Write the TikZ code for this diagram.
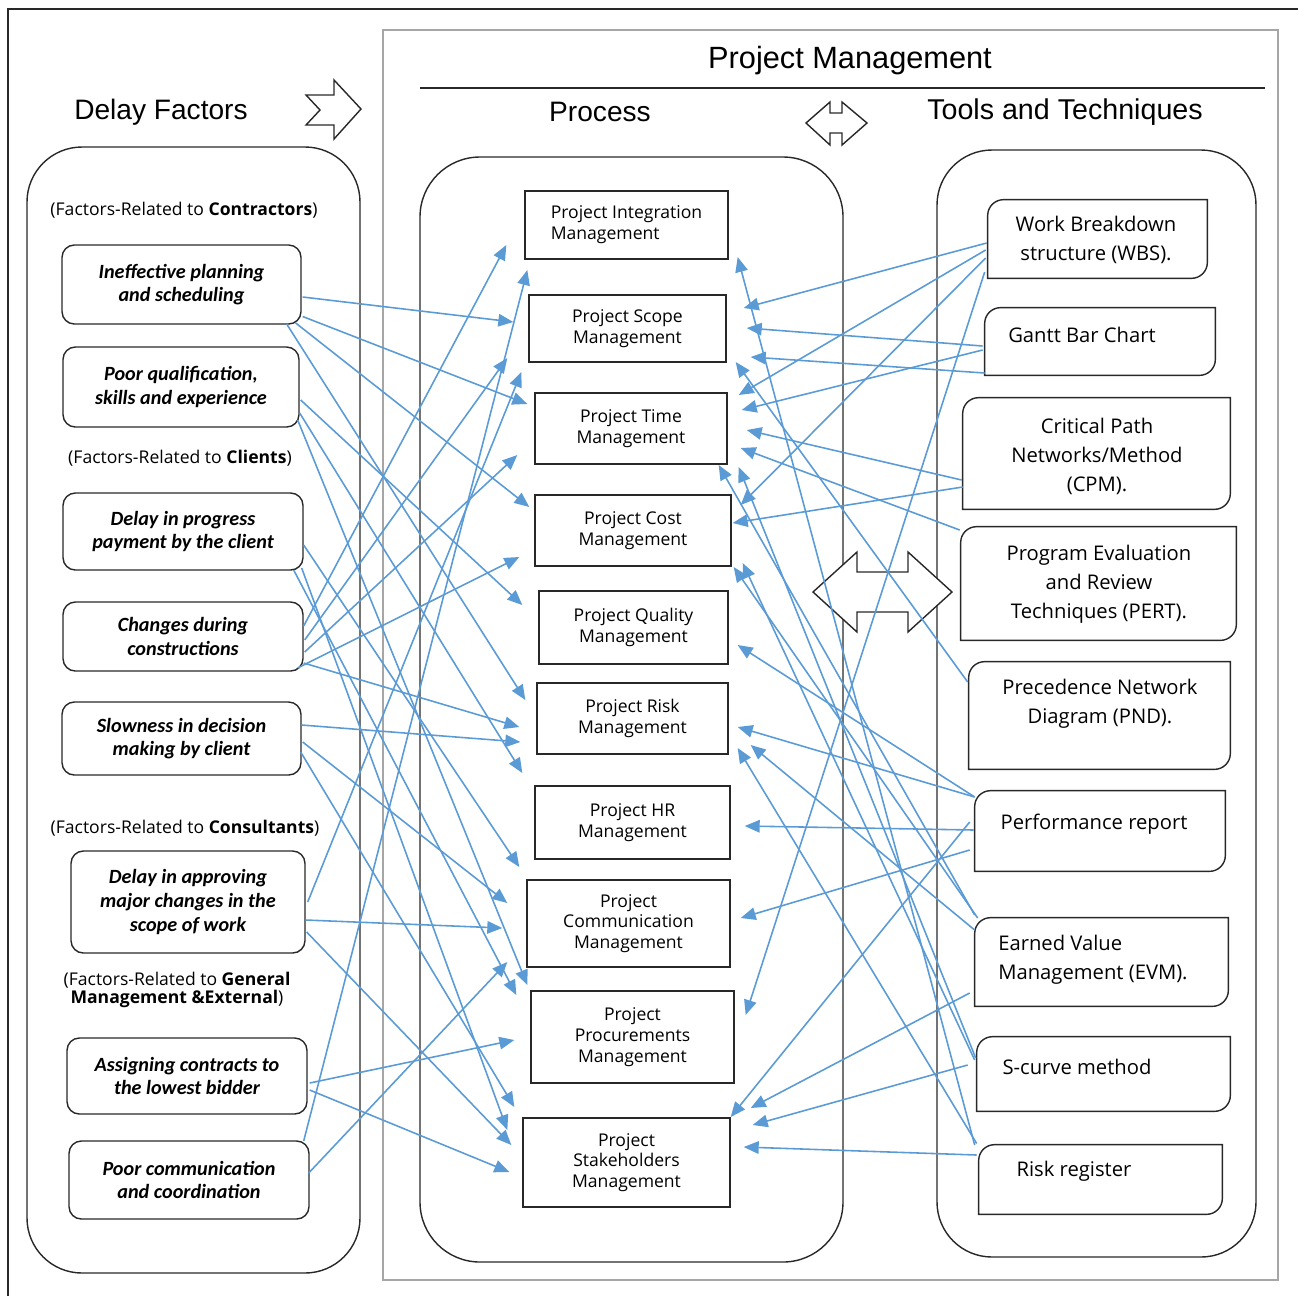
\documentclass[tikz,border=0pt]{standalone}
\usepackage{fontspec}
\setmainfont{Open Sans}
\newfontfamily\headfont{Liberation Sans}
\newfontfamily\factorfont{Carlito}
\usetikzlibrary{arrows.meta,calc}

\definecolor{linkblue}{RGB}{91,155,213}
\definecolor{boxline}{RGB}{40,40,40}

\begin{document}
\begin{tikzpicture}[x=0.02cm,y=-0.02cm,
    head/.style={font=\headfont\fontsize{16}{18}\selectfont},
    group/.style={font=\fontsize{10}{12}\selectfont},
    factor/.style={draw=boxline,thick,rounded corners=7pt,inner sep=0pt,align=center,
      font=\factorfont\bfseries\itshape\fontsize{11.5}{13.5}\selectfont},
    proc/.style={draw=boxline,thick,inner sep=0pt,align=center,font=\fontsize{10}{11.8}\selectfont},
    tool/.style={inner sep=0pt},
    tooltext/.style={inner sep=0pt,align=center,font=\fontsize{11.5}{16.5}\selectfont}]

        \useasboundingbox (0,0) rectangle (1298,1296);

        % frames
        \draw[boxline,line width=1.1pt] (8,1296) -- (8,9) -- (1298,9);
        \draw[gray!70,thick] (383,30) rectangle (1278,1280);
        \draw[boxline,thick] (420,88) -- (1265,88);
        \draw[boxline,thick,rounded corners=1.1cm] (27,147) rectangle (360,1273);
        \draw[boxline,thick,rounded corners=1.2cm] (420,157) rectangle (843,1262);
        \draw[boxline,thick,rounded corners=1.1cm] (937,150) rectangle (1256,1257);

        % block arrows
        \draw[boxline,thick,fill=white] (306,95) -- (334,95) -- (334,80) -- (361,109)
          -- (334,139) -- (334,125) -- (306,125) -- (320,110) -- cycle;
        \draw[boxline,thick,fill=white] (806,123) -- (830,102) -- (830,113) -- (842,113)
          -- (842,102) -- (867,123) -- (842,145) -- (842,133) -- (830,133) -- (830,145) -- cycle;
        \draw[boxline,thick,fill=white] (813,592) -- (857,552) -- (857,572) -- (908,572)
          -- (908,552) -- (952,592) -- (908,632) -- (908,612) -- (857,612) -- (857,632) -- cycle;

        % headings
        \node[head] (hdelay) at (161,112) {Delay Factors};
        \node[head,font=\headfont\fontsize{17.5}{20}\selectfont] (hpm) at (850,61) {Project Management};
        \node[head] (hproc) at (600,112) {Process};
        \node[head,font=\headfont\fontsize{16.3}{18}\selectfont] (htools) at (1065,112) {Tools and Techniques};

        \node[group] (g1) at (184,210) {(Factors-Related to \textbf{Contractors})};
        \node[group] (g2) at (180,458) {(Factors-Related to \textbf{Clients})};
        \node[group] (g3) at (185,828) {(Factors-Related to \textbf{Consultants})};
        \node[group,align=center,font=\fontsize{10}{10.5}\selectfont] (g4) at (177,990)
          {(Factors-Related to \textbf{General}\\\textbf{Management \&External})};

        % delay factors
        \node[factor,minimum width=4.78cm,minimum height=1.58cm] (f1) at (181.5,284.5) {Ineffective planning\\and scheduling};
        \node[factor,minimum width=4.72cm,minimum height=1.6cm] (f2) at (181,387) {Poor qualification,\\skills and experience};
        \node[factor,minimum width=4.8cm,minimum height=1.54cm] (f3) at (183,531.5) {Delay in progress\\payment by the client};
        \node[factor,minimum width=4.8cm,minimum height=1.38cm] (f4) at (183,636.5) {Changes during\\constructions};
        \node[factor,minimum width=4.78cm,minimum height=1.46cm] (f5) at (181.5,738.5) {Slowness in decision\\making by client};
        \node[factor,minimum width=4.68cm,minimum height=2.04cm] (f6) at (188,902) {Delay in approving\\major changes in the\\scope of work};
        \node[factor,minimum width=4.8cm,minimum height=1.52cm] (f7) at (187,1076) {Assigning contracts to\\the lowest bidder};
        \node[factor,minimum width=4.8cm,minimum height=1.56cm] (f8) at (189,1180) {Poor communication\\and coordination};

        % process
        \node[proc,align=left,minimum width=4.06cm,minimum height=1.36cm] (p1) at (626.5,225) {Project Integration\\Management};
        \node[proc,minimum width=3.94cm,minimum height=1.34cm] (p2) at (627.5,328.5) {Project Scope\\Management};
        \node[proc,minimum width=3.84cm,minimum height=1.42cm] (p3) at (631,428.5) {Project Time\\Management};
        \node[proc,minimum width=3.92cm,minimum height=1.42cm] (p4) at (633,530.5) {Project Cost\\Management};
        \node[proc,minimum width=3.78cm,minimum height=1.46cm] (p5) at (633.5,627.5) {Project Quality\\Management};
        \node[proc,minimum width=3.82cm,minimum height=1.42cm] (p6) at (632.5,718.5) {Project Risk\\Management};
        \node[proc,minimum width=3.9cm,minimum height=1.46cm] (p7) at (632.5,822.5) {Project HR\\Management};
        \node[proc,minimum width=4.06cm,minimum height=1.74cm] (p8) at (628.5,923.5) {Project\\Communication\\Management};
        \node[proc,minimum width=4.06cm,minimum height=1.84cm] (p9) at (632.5,1037) {Project\\Procurements\\Management};
        \node[proc,minimum width=4.14cm,minimum height=1.78cm] (p10) at (626.5,1162.5) {Project\\Stakeholders\\Management};

        % tools and techniques
        \node[tool,minimum width=4.38cm,minimum height=1.56cm] (t1) at (1097.5,239) {};
        \node[tool,minimum width=4.6cm,minimum height=1.34cm] (t2) at (1100,341.5) {};
        \node[tool,minimum width=5.34cm,minimum height=2.22cm] (t3) at (1096.5,453.5) {};
        \node[tool,minimum width=5.5cm,minimum height=2.26cm] (t4) at (1098.5,583.5) {};
        \node[tool,minimum width=5.22cm,minimum height=2.14cm] (t5) at (1099.5,715.5) {};
        \node[tool,minimum width=5cm,minimum height=1.6cm] (t6) at (1100,831) {};
        \node[tool,minimum width=5.06cm,minimum height=1.76cm] (t7) at (1101.5,962) {};
        \node[tool,minimum width=5.06cm,minimum height=1.48cm] (t8) at (1103.5,1074) {};
        \node[tool,minimum width=4.86cm,minimum height=1.38cm] (t9) at (1100.5,1179.5) {};

        \foreach \t in {t1,t2,t3,t4,t5,t6,t7,t8,t9}
          \draw[boxline,thick] (\t.west) [rounded corners=9pt] -- (\t.north west) -- (\t.north)
            [sharp corners] -- (\t.north east) -- (\t.east) [rounded corners=9pt] -- (\t.south east)
            -- (\t.south) [sharp corners] -- (\t.south west) -- cycle;

        \node[tooltext] (t1l) at (1096,240) {Work Breakdown\\structure (WBS).};
        \node[tooltext] (t2l) at (1082,335) {Gantt Bar Chart};
        \node[tooltext] (t3l) at (1097,456) {Critical Path\\Networks/Method\\(CPM).};
        \node[tooltext] (t4l) at (1099,584) {Program Evaluation\\and Review\\Techniques (PERT).};
        \node[tooltext] (t5l) at (1100,704) {Precedence Network\\Diagram (PND).};
        \node[tooltext] (t6l) at (1094,824) {Performance report};
        \node[tooltext,align=left,anchor=west] (t7l) at (998,960) {Earned Value\\Management (EVM).};
        \node[tooltext] (t8l) at (1077,1067) {S-curve method};
        \node[tooltext] (t9l) at (1074,1171) {Risk register};

        \begin{scope}[every edge/.style={draw=linkblue,line width=0.9pt,-{Triangle[length=3mm,width=2.5mm]}}]
          % delay factors to process
          \path ($(f1.east)+(1,12.5)$) edge ($(p2.west)+(-15,-6.5)$);
          \path ($(f1.east)+(1,32)$) edge ($(p3.west)+(-7,-24.5)$);
          \path ($(f1.east)+(-6,38.5)$) edge ($(p4.west)+(-5,-23.5)$);
          \path ($(f1.east)+(-15,39.5)$) edge ($(p6.west)+(-11,-18.5)$);
          \path ($(f2.east)+(1,13)$) edge ($(p5.west)+(-16,-22.5)$);
          \path ($(f2.east)+(0,26)$) edge ($(p7.west)+(-12,-49.5)$);
          \path ($(f2.east)+(-2,33)$) edge ($(p9.west)+(-3,-52)$);
          \path ($(f3.east)+(0,13.5)$) edge ($(p8.west)+(-7,-56.5)$);
          \path ($(f3.east)+(-10,38.5)$) edge ($(p9.west)+(-14,-42)$);
          \path ($(f3.east)+(-2,36.5)$) edge ($(p10.west)+(-15,-32.5)$);
          \path ($(f4.east)+(0,-10.5)$) edge ($(p1.west)+(-18,20)$);
          \path ($(f4.east)+(1,3.5)$) edge ($(p2.west)+(-21,29.5)$);
          \path ($(f4.east)+(1,15.5)$) edge ($(p3.west)+(-17,26.5)$);
          \path ($(f4.east)+(-6,31.5)$) edge ($(p4.west)+(-15,26.5)$);
          \path ($(f4.east)+(0,26.5)$) edge ($(p6.west)+(-17,8.5)$);
          \path ($(f5.east)+(0,-13.5)$) edge ($(p6.west)+(-16,23.5)$);
          \path ($(f5.east)+(1,3.5)$) edge ($(p8.west)+(-19,-20.5)$);
          \path ($(f5.east)+(-1,13.5)$) edge ($(p10.west)+(-8,-55.5)$);
          \path ($(f6.east)+(2,0)$) edge ($(p2.west)+(-7,43.5)$);
          \path ($(f6.east)+(0,18)$) edge ($(p8.west)+(-24,4.5)$);
          \path ($(f6.east)+(1,30)$) edge ($(p10.west)+(-11,-17.5)$);
          \path ($(f7.east)+(2,7)$) edge ($(p9.west)+(-16,3)$);
          \path ($(f7.east)+(2,14)$) edge ($(p10.west)+(-13,9.5)$);
          \path ($(f8.east)+(-6,-39)$) edge ($(p1.west)+(3,45)$);
          \path ($(f8.east)+(-1,-7)$) edge ($(p9.west)+(-23,-75)$);

          % tools to process
          \path ($(t1.west)+(-1,4)$) edge ($(p2.east)+(17,-20.5)$);
          \path ($(t1.west)+(-2,11)$) edge ($(p3.east)+(11,-33.5)$);
          \path ($(t1.west)+(-2,19)$) edge ($(p4.east)+(9,-25.5)$);
          \path ($(t1.west)+(-3,33)$) edge ($(p9.east)+(11,-22)$);
          \path ($(t2.west)+(-2,4.5)$) edge ($(p2.east)+(20,-0.5)$);
          \path ($(t2.west)+(-2,8.5)$) edge ($(p3.east)+(14,-18.5)$);
          \path ($(t2.west)+(0,31.5)$) edge ($(p2.east)+(24,28.5)$);
          \path ($(t3.west)+(-1,26.5)$) edge ($(p3.east)+(19,1.5)$);
          \path ($(t3.west)+(0,33.5)$) edge ($(p4.east)+(1,-7.5)$);
          \path ($(t4.west)+(-1,-53.5)$) edge ($(p3.east)+(13,19.5)$);
          \path ($(t5.west)+(-1,-33.5)$) edge ($(p2.east)+(9,33.5)$);
          \path ($(t6.west)+(0,-34)$) edge ($(p5.east)+(9,17.5)$);
          \path ($(t6.west)+(0,-34)$) edge ($(p6.east)+(9,8.5)$);
          \path ($(t6.west)+(-1,-1)$) edge ($(p7.east)+(14,3.5)$);
          \path ($(t6.west)+(-5,19)$) edge ($(p8.east)+(10,-5.5)$);
          \path ($(t6.west)+(-5,-9)$) edge ($(p10.east)+(0,-45.5)$);
          \path ($(t7.west)+(0,-47)$) edge ($(p3.east)+(-9,36.5)$);
          \path ($(t7.west)+(3,-44)$) edge ($(p4.east)+(2,36.5)$);
          \path ($(t7.west)+(0,-32)$) edge ($(p6.east)+(22,26.5)$);
          \path ($(t7.west)+(-5,31)$) edge ($(p10.east)+(20,-54.5)$);
          \path ($(t8.west)+(-2,-14)$) edge ($(p4.east)+(11,32.5)$);
          \path ($(t8.west)+(-1,-16)$) edge ($(p3.east)+(11,38.5)$);
          \path ($(t8.west)+(-9,-9)$) edge ($(p10.east)+(22,-37.5)$);
          \path ($(t9.west)+(-4,-34.5)$) edge ($(p1.east)+(9,32)$);
          \path ($(t9.west)+(-2,-36)$) edge ($(p6.east)+(9,29.5)$);
          \path ($(t9.west)+(-2,-24.5)$) edge ($(p10.east)+(13,-15.5)$);
        \end{scope}

      \end{tikzpicture}
\end{document}
